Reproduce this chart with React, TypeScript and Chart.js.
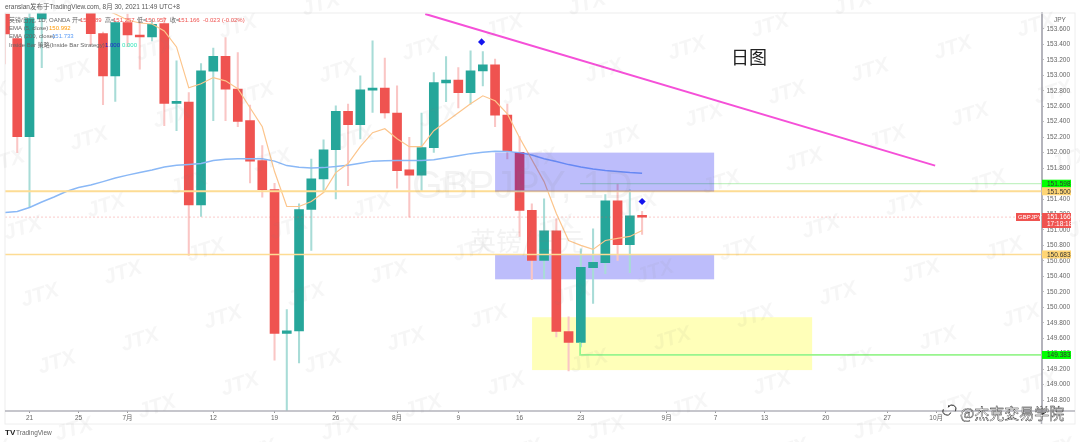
import React, { useEffect, useRef } from 'react';
import { Chart, registerables } from 'chart.js';

Chart.register(...registerables);

// GBPJPY daily, 17 Jun 2021 onwards. Three sessions ran above the visible range.
const firstIndex = -2;
const opens = [153.793, 153.475, 152.206, 153.729, null, null, null, 153.85, 153.539, 152.993, 153.681, 153.522, 153.496, 153.668, 152.636, 152.654, 151.325, 153.054, 153.247, 152.822, 152.413, 151.897, 151.522, 149.66, 149.694, 151.264, 151.66, 152.038, 152.533, 152.361, 152.809, 152.835, 152.512, 151.777, 151.707, 152.064, 152.903, 152.938, 152.774, 153.058, 153.135, 152.486, 152.004, 151.255, 150.606, 150.989, 149.686, 149.544, 150.512, 150.577, 151.377, 150.809, 151.189];
const closes = [153.535, 152.206, 153.733, 153.85, null, null, null, 153.539, 152.993, 153.681, 153.522, 153.496, 153.66, 152.636, 152.662, 151.325, 153.058, 153.247, 152.822, 152.404, 151.888, 151.522, 149.66, 149.694, 151.264, 151.66, 152.035, 152.533, 152.361, 152.813, 152.835, 152.512, 151.768, 151.707, 152.064, 152.907, 152.938, 152.774, 153.058, 153.135, 152.486, 152.013, 151.251, 150.606, 150.989, 149.686, 149.544, 150.516, 150.58, 151.377, 150.809, 151.183, 151.166];
const highs = [153.9, 153.52, 153.8, 153.9, null, null, null, 153.9, 153.56, 153.7, 153.793, 153.703, 153.72, 153.75, 153.187, 152.778, 153.152, 153.351, 153.488, 153.294, 152.615, 152.09, 151.604, 149.97, 151.338, 151.918, 152.164, 152.606, 152.628, 152.993, 153.445, 153.222, 152.864, 152.197, 152.512, 153.036, 153.242, 153.1, 153.316, 153.307, 153.209, 152.628, 152.206, 151.338, 151.402, 151.144, 149.875, 150.757, 151.015, 151.458, 151.596, 151.518, 151.242];
const lows = [153.148, 152.0, 151.294, 153.1, null, null, null, 153.393, 152.619, 152.662, 153.371, 153.08, 153.445, 152.348, 152.284, 150.671, 151.174, 152.413, 152.413, 152.335, 151.609, 151.423, 149.316, 148.6, 149.281, 150.735, 151.487, 151.402, 151.574, 152.177, 152.52, 152.447, 151.539, 151.165, 151.509, 152.004, 152.658, 152.577, 152.628, 152.864, 152.335, 151.918, 150.916, 150.357, 150.37, 149.617, 149.178, 149.488, 150.048, 150.435, 150.606, 150.447, 150.942];

const ema5 = [null, null, null, null, null, null, null, null, 153.86, 153.793, 153.716, 153.677, 153.664, 153.574, 153.367, 152.838, 152.89, 152.971, 152.929, 152.826, 152.58, 152.335, 151.755, 151.303, 151.303, 151.368, 151.484, 151.742, 151.858, 152.077, 152.258, 152.309, 152.18, 152.077, 152.077, 152.284, 152.4, 152.516, 152.632, 152.735, 152.671, 152.503, 152.193, 151.909, 151.625, 151.213, 150.864, 150.8, 150.748, 150.864, 150.89, 150.916, 150.992];
const ema200 = [151.226, 151.238, 151.29, 151.361, 151.426, 151.497, 151.548, 151.58, 151.625, 151.671, 151.709, 151.742, 151.774, 151.813, 151.838, 151.847, 151.858, 151.897, 151.913, 151.922, 151.922, 151.922, 151.89, 151.832, 151.81, 151.8, 151.806, 151.819, 151.838, 151.864, 151.89, 151.894, 151.897, 151.897, 151.897, 151.909, 151.935, 151.961, 151.987, 152.004, 152.017, 152.013, 152.0, 151.968, 151.922, 151.884, 151.845, 151.813, 151.787, 151.768, 151.755, 151.742, 151.733];

const xTickIndex = [0, 4, 8, 15, 20, 25, 30, 35, 40, 45, 52, 56, 60, 65, 70, 74, 80];
const xTickLabels = ['21', '25', '7月', '12', '19', '26', '8月', '9', '16', '23', '9月', '7', '13', '20', '27', '10月', '11'];
const yTicks = [153.6, 153.4, 153.2, 153.0, 152.8, 152.6, 152.4, 152.2, 152.0, 151.8, 151.6, 151.4, 151.2, 151.0, 150.8, 150.6, 150.4, 150.2, 150.0, 149.8, 149.6, 149.4, 149.2, 149.0, 148.8];

const xMin = -2;
const xMax = 82.6;
const trendLine = [{ x: 32.3, y: 153.793 }, { x: 73.92, y: 151.832 }];
const resistance = 151.5;
const support = 150.683;
const lastPrice = 151.166;
const upperTarget = 151.598;
const lowerTarget = 149.383;
const targetStart = 44.94;
const insideBarMarks = [{ x: 36.9, y: 153.432 }, { x: 50, y: 151.368 }];

const upperBox = { x0: 38, x1: 55.88, top: 152.0, bottom: 151.497 };
const lowerBox = { x0: 38, x1: 55.88, top: 150.683, bottom: 150.361 };
const yellowBox = { x0: 41.02, x1: 63.88, top: 149.871, bottom: 149.187 };

const RED = '#ef5350';
const TEAL = '#26a69a';
const FONT = '"Liberation Sans", "Noto Sans CJK SC", sans-serif';
const CJK = '"Noto Sans CJK SC", sans-serif';

const candleX = (pos: number) => firstIndex + pos;
const isUp = (pos: number) => (closes[pos] as number) >= (opens[pos] as number);

const fillBox = (chart: any, box: any, color: string) => {
  const { x, y } = chart.scales;
  const { ctx } = chart;
  ctx.save();
  ctx.fillStyle = color;
  const left = x.getPixelForValue(box.x0);
  const top = y.getPixelForValue(box.top);
  ctx.fillRect(left, top, x.getPixelForValue(box.x1) - left, y.getPixelForValue(box.bottom) - top);
  ctx.restore();
};

const label = (ctx: any, text: string, px: number, py: number, color = '#666', size = 6) => {
  ctx.font = `${size}px ${FONT}`;
  ctx.fillStyle = color;
  ctx.textAlign = 'left';
  ctx.textBaseline = 'middle';
  ctx.fillText(text, px, py);
};

const flag = (chart: any, price: number, bg: string, text: string) => {
  const { ctx } = chart;
  const py = chart.scales.y.getPixelForValue(price);
  ctx.fillStyle = bg;
  ctx.fillRect(1042, py - 4, 29, 8);
  label(ctx, text, 1047, py + 0.5, '#333', 6.5);
};

const boxesBehind = {
  id: 'boxesBehind',
  beforeDatasetsDraw(chart: any) {
    fillBox(chart, yellowBox, '#ffffb9');
    fillBox(chart, lowerBox, 'rgba(0,0,240,0.26)');
  },
};

const overlay = {
  id: 'overlay',
  afterDatasetsDraw(chart: any) {
    fillBox(chart, upperBox, 'rgba(0,0,240,0.26)');
  },
  afterDraw(chart: any) {
    const { ctx } = chart;
    ctx.save();

    // panel frame and the long time axis line
    ctx.strokeStyle = '#eeeeee';
    ctx.lineWidth = 1;
    ctx.strokeRect(5, 13, 1070, 411);
    ctx.strokeStyle = '#b4b4bc';
    ctx.lineWidth = 1.5;
    ctx.beginPath();
    ctx.moveTo(5, 411);
    ctx.lineTo(1075, 411);
    ctx.moveTo(1041.5, 411);
    ctx.lineTo(1041.5, 424);
    ctx.stroke();

    // header
    label(ctx, 'eranslan发布于TradingView.com, 8月 30, 2021 11:49 UTC+8', 5, 7, '#555', 6.5);
    label(ctx, '英镑/日元, 1D, OANDA', 9, 20, '#666');
    label(ctx, '开=', 72, 20, '#666');
    label(ctx, '151.189', 80, 20, RED);
    label(ctx, '高=', 105, 20, '#666');
    label(ctx, '151.257', 113, 20, RED);
    label(ctx, '低=', 137, 20, '#666');
    label(ctx, '150.957', 145, 20, RED);
    label(ctx, '收=', 170, 20, '#666');
    label(ctx, '151.166', 178, 20, RED);
    label(ctx, '-0.023 (-0.02%)', 203, 20, RED);
    label(ctx, 'EMA (5, close)', 9, 28.5, '#666');
    label(ctx, '150.992', 49, 28.5, '#ff9800');
    label(ctx, 'EMA (200, close)', 9, 36.5, '#666');
    label(ctx, '151.733', 52, 36.5, '#5b9cf6');
    label(ctx, 'Inside Bar 策略(Inside Bar Strategy)', 9, 45, '#666');
    label(ctx, '1.000', 105, 45, '#2222cc');
    label(ctx, '0.000', 122, 45, '#2fe6b8');

    label(ctx, '日图', 731, 59, '#222', 18);
    label(ctx, 'JPY', 1054, 20, '#666', 6.5);

    // price flags
    flag(chart, upperTarget, '#00ff00', '151.598');
    flag(chart, resistance, '#ffd574', '151.500');
    flag(chart, support, '#ffd574', '150.683');
    flag(chart, lowerTarget, '#00ff00', '149.383');
    ctx.fillStyle = RED;
    ctx.fillRect(1016, 213, 24, 8);
    ctx.fillRect(1042, 213, 29, 15);
    label(ctx, 'GBPJPY', 1018, 217.5, '#ffffff', 6);
    label(ctx, '151.166', 1047, 217.5, '#ffffff', 6.5);
    label(ctx, '17:18:18', 1047, 224.5, '#ffffff', 6.5);

    // TradingView mark
    ctx.fillStyle = '#222';
    ctx.font = `bold 8px ${FONT}`;
    ctx.textBaseline = 'middle';
    ctx.fillText('TV', 5, 433);
    label(ctx, 'TradingView', 16, 433, '#666', 6.5);

    // watermarks
    ctx.textAlign = 'left';
    ctx.fillStyle = 'rgba(120,120,120,0.09)';
    ctx.font = `39px ${FONT}`;
    ctx.fillText('GBPJPY, 1D', 412, 187);
    ctx.font = `26px ${CJK}`;
    ctx.fillText('英镑/日元', 470, 241);
    ctx.fillStyle = 'rgba(130,130,130,0.07)';
    ctx.font = `italic bold 21px "Liberation Sans", sans-serif`;
    for (let a = -8; a < 16; a += 1) {
      for (let b = -8; b < 10; b += 1) {
        const wx = 140 + a * 83 + b * 17;
        const wy = 340 - a * 22.5 + b * 67;
        if (wx < -30 || wx > 1110 || wy < -20 || wy > 460) continue;
        ctx.save();
        ctx.translate(wx, wy);
        ctx.rotate(-0.3);
        ctx.textAlign = 'center';
        ctx.fillText('JTX', 0, 0);
        ctx.restore();
      }
    }

    // author stamp
    ctx.strokeStyle = '#222';
    ctx.lineWidth = 1;
    ctx.beginPath();
    ctx.arc(947, 411, 4, 0.4, 3.6);
    ctx.moveTo(949, 405);
    ctx.arc(952, 409, 4, 3.6, 0.6);
    ctx.stroke();
    ctx.font = `15px ${CJK}`;
    ctx.textAlign = 'left';
    ctx.fillStyle = '#ffffff';
    ctx.lineWidth = 0.4;
    ctx.strokeStyle = '#222';
    ctx.fillText('@杰克交易学院', 960, 413);
    ctx.strokeText('@杰克交易学院', 960, 413);
    ctx.restore();
  },
};

const lineSet = (data: any[], color: string, width: number, order: number, extra: any = {}) => ({
  type: 'line',
  data,
  borderColor: color,
  borderWidth: width,
  pointRadius: 0,
  tension: 0,
  spanGaps: false,
  order,
  ...extra,
});

const App: React.FC = () => {
  const chartRef = useRef<HTMLCanvasElement>(null);

  useEffect(() => {
    document.body.style.margin = '0';
    document.body.style.background = '#ffffff';
    if (!chartRef.current) return;

    const wicks = highs.map((h, pos) => ({ x: candleX(pos), y: h === null ? null : [lows[pos], h] }));
    const bodies = opens.map((o, pos) => ({ x: candleX(pos), y: o === null ? null : [o, closes[pos]] }));
    const wickColors = highs.map((_, pos) => (isUp(pos) ? '#a8dcd7' : '#fac6c5'));
    const bodyColors = highs.map((_, pos) => (isUp(pos) ? TEAL : RED));

    const chart = new Chart(chartRef.current, {
      type: 'bar',
      data: {
        datasets: [
          { data: wicks, backgroundColor: wickColors, barThickness: 1.4, grouped: false, order: 9 },
          { data: bodies, backgroundColor: bodyColors, barThickness: 9, grouped: false, order: 8 },
          lineSet(ema5.map((y, pos) => ({ x: candleX(pos), y })), '#fcc58c', 1.2, 5),
          lineSet(ema200.map((y, pos) => ({ x: candleX(pos), y })), '#8ab8f6', 1.5, 6),
          lineSet([{ x: xMin, y: resistance }, { x: xMax, y: resistance }], '#fddc94', 2, 4),
          lineSet([{ x: xMin, y: support }, { x: xMax, y: support }], '#fddc94', 1.6, 4),
          lineSet([{ x: xMin, y: lastPrice }, { x: xMax, y: lastPrice }], 'rgba(239,83,80,0.3)', 1, 7, { borderDash: [2, 2] }),
          lineSet([{ x: targetStart, y: upperTarget }, { x: xMax, y: upperTarget }], '#b5efb5', 1, 3),
          lineSet([{ x: targetStart, y: 149.544 }, { x: targetStart, y: lowerTarget }, { x: xMax, y: lowerTarget }], '#98f58e', 1.8, 3),
          lineSet(trendLine, '#f550d8', 2, 2),
          lineSet(insideBarMarks, '#0000ff', 0, 1, { showLine: false, pointRadius: 3.6, pointStyle: 'rectRot', pointBackgroundColor: '#1414ee', pointBorderWidth: 0 }),
        ] as any,
      },
      options: {
        animation: false,
        responsive: false,
        layout: { padding: { top: 13, left: 5, right: 0, bottom: 0 } },
        plugins: { legend: { display: false }, tooltip: { enabled: false } },
        scales: {
          x: {
            type: 'linear',
            offset: false,
            min: xMin,
            max: xMax,
            bounds: 'data',
            afterBuildTicks: (s: any) => { s.ticks = xTickIndex.map((value) => ({ value })); },
            afterFit: (s: any) => { s.height = 31; s.paddingLeft = 0; s.paddingRight = 0; },
            grid: { offset: false, drawOnChartArea: false, tickLength: 2, tickColor: '#999' },
            border: { display: false },
            ticks: {
              autoSkip: false,
              maxRotation: 0,
              padding: 1,
              color: '#666',
              font: { size: 6.5, family: FONT },
              callback: (v: any) => xTickLabels[xTickIndex.indexOf(v)],
            },
          },
          y: {
            type: 'linear',
            position: 'right',
            min: 148.658,
            max: 153.806,
            bounds: 'data',
            afterBuildTicks: (s: any) => { s.ticks = yTicks.map((value) => ({ value })); },
            afterFit: (s: any) => { s.width = 38.5; s.paddingTop = 0; s.paddingBottom = 0; },
            grid: { drawOnChartArea: false, tickLength: 2, tickColor: '#777' },
            border: { color: '#b4b4bc', width: 2 },
            ticks: {
              autoSkip: false,
              padding: 3,
              color: '#666',
              font: { size: 6.5, family: FONT },
              callback: (v: any) => Number(v).toFixed(3),
            },
          },
        },
      } as any,
      plugins: [boxesBehind, overlay],
    });

    return () => {
      chart.destroy();
    };
  }, []);

  return <canvas ref={chartRef} width={1080} height={442} style={{ display: 'block', filter: 'blur(0.35px)' }} />;
};

export default App;
